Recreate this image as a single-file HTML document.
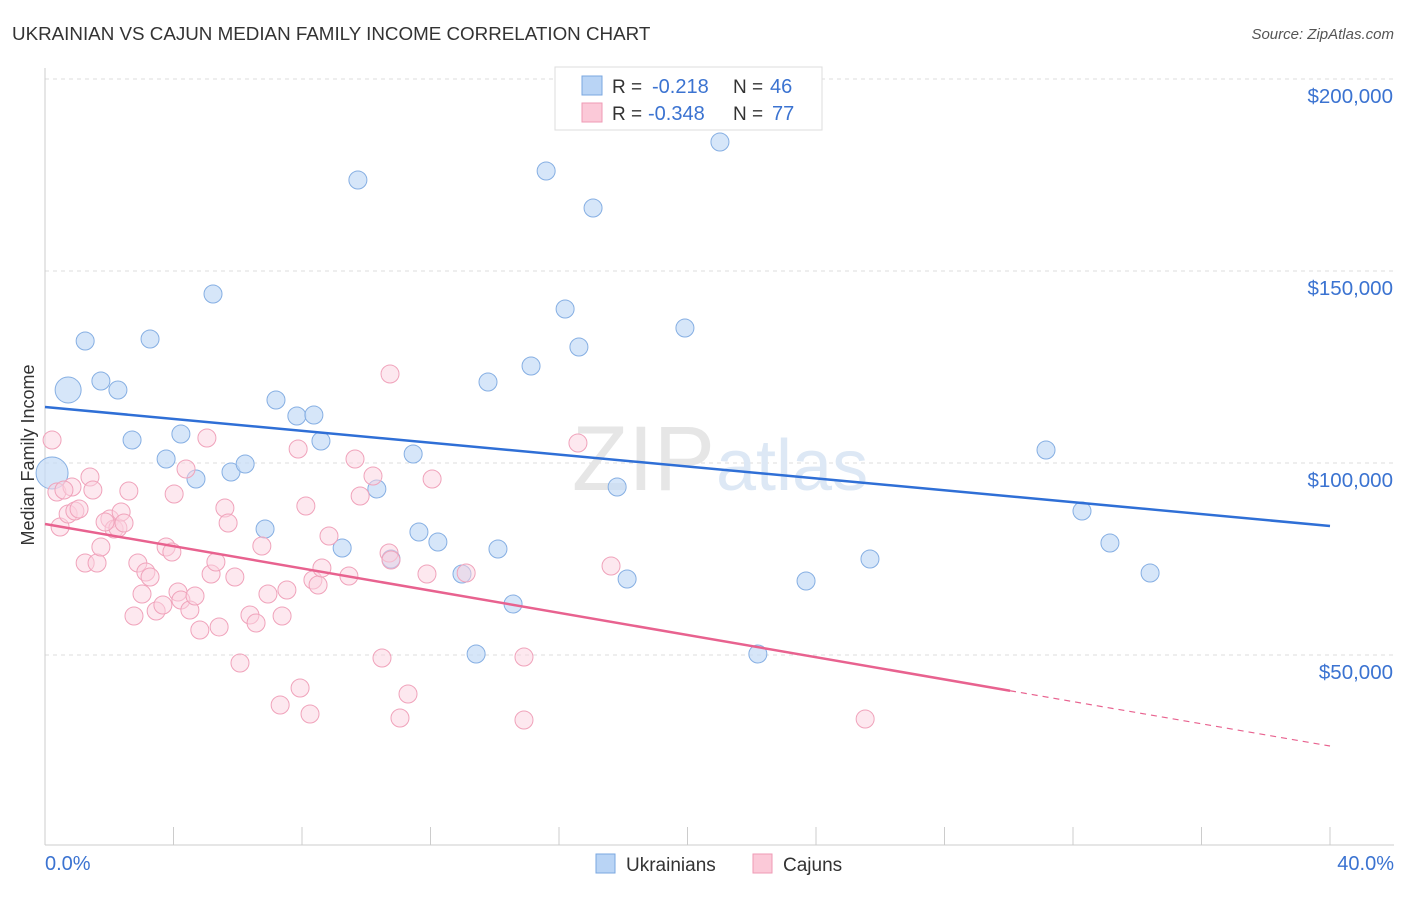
<!DOCTYPE html>
<html><head><meta charset="utf-8">
<style>
body{margin:0;background:#fff;font-family:"Liberation Sans",sans-serif;}
svg text{font-family:"Liberation Sans",sans-serif;}
</style></head>
<body>
<svg id="chart" width="1406" height="892" xmlns="http://www.w3.org/2000/svg">
<text x="12" y="40" font-size="18.8" fill="#333">UKRAINIAN VS CAJUN MEDIAN FAMILY INCOME CORRELATION CHART</text>
<text x="1394" y="39" font-size="15" fill="#555" text-anchor="end" font-style="italic">Source: ZipAtlas.com</text>
<g id="grid"></g>
<text x="715" y="490" font-size="92" fill="#e6e6e6" text-anchor="end" font-family="Liberation Serif">ZIP</text>
<text x="716" y="490" font-size="72" fill="#dde8f5">atlas</text>
<g id="marks"></g>
<text transform="translate(34,455) rotate(-90)" font-size="18" fill="#333" text-anchor="middle">Median Family Income</text>
<text x="45" y="870" font-size="20" fill="#3b73d1">0.0%</text>
<text x="1394" y="870" font-size="20" fill="#3b73d1" text-anchor="end">40.0%</text>
<g>
<rect x="555" y="67" width="267" height="63" fill="#fff" stroke="#ddd"/>
<rect x="582" y="76" width="20" height="19" fill="#b9d4f5" stroke="#7aa7e0"/>
<rect x="582" y="103" width="20" height="19" fill="#fbc9d8" stroke="#ef9ab5"/>
<text x="612" y="93" font-size="19" fill="#333">R =</text>
<text x="652" y="93" font-size="20" fill="#3b73d1">-0.218</text>
<text x="733" y="93" font-size="19" fill="#333">N =</text>
<text x="770" y="93" font-size="20" fill="#3b73d1">46</text>
<text x="612" y="120" font-size="19" fill="#333">R =</text>
<text x="648" y="120" font-size="20" fill="#3b73d1">-0.348</text>
<text x="733" y="120" font-size="19" fill="#333">N =</text>
<text x="772" y="120" font-size="20" fill="#3b73d1">77</text>
</g>
<g>
<rect x="596" y="854" width="19" height="19" fill="#b9d4f5" stroke="#7aa7e0"/>
<text x="626" y="871" font-size="19" fill="#333">Ukrainians</text>
<rect x="753" y="854" width="19" height="19" fill="#fbc9d8" stroke="#ef9ab5"/>
<text x="783" y="871" font-size="19" fill="#333">Cajuns</text>
</g>
</svg>
<script>
const yTicks=[50000,100000,150000,200000];
const yTickLabels=["$50,000","$100,000","$150,000","$200,000"];
const xTicks=[0,4,8,12,16,20,24,28,32,36,40];
const bluePx=[[68,390,13],[52,473,16],[85,341],[101,381],[118,390],[150,339],[132,440],[181,434],[166,459],[196,479],[213,294],[231,472],[245,464],[265,529],[276,400],[297,416],[314,415],[321,441],[342,548],[358,180],[377,489],[391,559],[413,454],[419,532],[438,542],[462,574],[476,654],[488,382],[498,549],[513,604],[531,366],[546,171],[565,309],[579,347],[593,208],[617,487],[627,579],[685,328],[720,142],[758,654],[806,581],[870,559],[1046,450],[1082,511],[1110,543],[1150,573]];
const pinkPx=[[52,440],[57,492],[60,527],[68,514],[72,487],[75,511],[79,509],[85,563],[90,477],[93,490],[97,563],[101,547],[110,519],[114,529],[118,528],[121,512],[124,523],[129,491],[134,616],[138,563],[142,594],[146,572],[150,577],[156,611],[163,605],[166,547],[172,552],[174,494],[178,592],[181,600],[186,469],[190,610],[195,596],[200,630],[207,438],[211,574],[216,562],[219,627],[225,508],[228,523],[235,577],[240,663],[250,615],[256,623],[262,546],[268,594],[280,705],[282,616],[287,590],[298,449],[300,688],[306,506],[310,714],[313,580],[318,585],[322,568],[329,536],[349,576],[355,459],[360,496],[373,476],[389,553],[390,374],[391,560],[382,658],[400,718],[408,694],[427,574],[432,479],[466,573],[524,657],[524,720],[578,443],[611,566],[865,719],[105,522],[64,490]];
const px2x=p=>(p-45)/1285*40, px2y=p=>100000-(p-463)*50000/192;
const blueX=bluePx.map(p=>+px2x(p[0]).toFixed(2)), blueY=bluePx.map(p=>Math.round(px2y(p[1])));
const pinkX=pinkPx.map(p=>+px2x(p[0]).toFixed(2)), pinkY=pinkPx.map(p=>Math.round(px2y(p[1])));
const blueR=bluePx.map(p=>p[2]||9);
const blueTrend=[114583,83594], pinkTrend=[84115,26302], pinkSolidEnd=30.04;
const X=v=>45+v/40*1285, Y=v=>463-(v-100000)*192/50000;
const NS="http://www.w3.org/2000/svg";
function mk(tag,attrs,parent){const e=document.createElementNS(NS,tag);for(const k in attrs)e.setAttribute(k,attrs[k]);parent.appendChild(e);return e;}
const grid=document.getElementById('grid'), marks=document.getElementById('marks');
yTicks.forEach((t,i)=>{
 const l=mk('line',{x1:45,x2:1394,y1:Y(t),y2:Y(t),stroke:'#ddd','stroke-dasharray':'4,4'},grid);
 
 
 const tx=mk('text',{x:1393,y:Y(t)+24,'font-size':20.5,fill:'#3b73d1','text-anchor':'end'},grid);
 tx.textContent=yTickLabels[i];
 
 
});
const ax=mk('line',{x1:45,x2:1394,y1:845,y2:845,stroke:'#ccc'},grid);


const ay=mk('line',{x1:45,x2:45,y1:68,y2:845,stroke:'#ccc'},grid);


xTicks.forEach(t=>{
 const l=mk('line',{x1:X(t),x2:X(t),y1:827,y2:845,stroke:'#ccc'},grid);
 
 
});
blueX.forEach((x,i)=>{
 const c=mk('circle',{cx:X(x),cy:Y(blueY[i]),r:blueR[i],fill:'#c4dbf7','fill-opacity':0.7,stroke:'#86afe3'},marks);
 
 
});
pinkX.forEach((x,i)=>{
 const c=mk('circle',{cx:X(x),cy:Y(pinkY[i]),r:9,fill:'#fcd2df','fill-opacity':0.5,stroke:'#f0a3bb'},marks);
 
 
});
const bl=mk('line',{x1:X(0),y1:Y(blueTrend[0]),x2:X(40),y2:Y(blueTrend[1]),stroke:'#2f6fd6','stroke-width':2.5},marks);


const pMid=pinkTrend[0]+(pinkTrend[1]-pinkTrend[0])*pinkSolidEnd/40;
const pl=mk('line',{x1:X(0),y1:Y(pinkTrend[0]),x2:X(pinkSolidEnd),y2:Y(pMid),stroke:'#e8628f','stroke-width':2.5},marks);


const pd=mk('line',{x1:X(pinkSolidEnd),y1:Y(pMid),x2:X(40),y2:Y(pinkTrend[1]),stroke:'#e8628f','stroke-width':1.2,'stroke-dasharray':'6,5'},marks);


</script>
</body></html>
